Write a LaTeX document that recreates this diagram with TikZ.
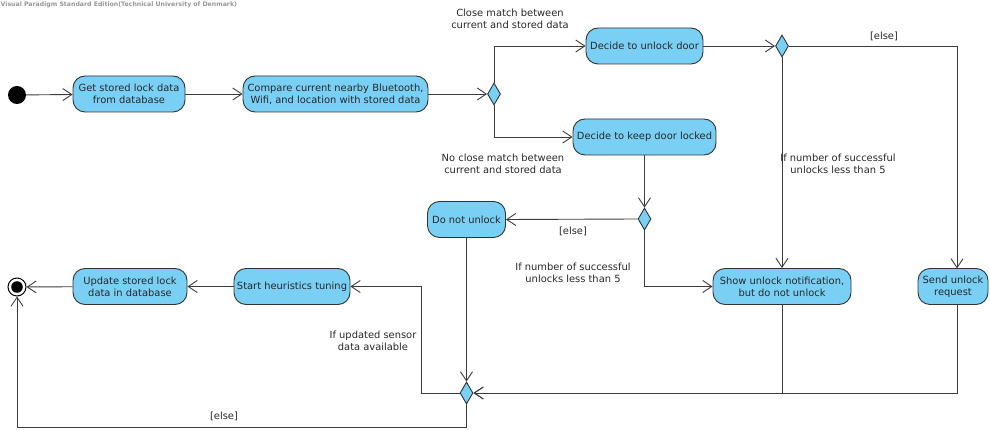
\documentclass[tikz,border=0pt]{standalone}
\usepackage{fontspec}
\setmainfont{DejaVu Sans}
\usetikzlibrary{arrows.meta,shapes.geometric}
\definecolor{actfill}{RGB}{122,207,245}
\definecolor{actline}{RGB}{51,51,51}
\definecolor{flowline}{RGB}{60,60,60}
\definecolor{txt}{RGB}{40,40,40}
\definecolor{mark}{RGB}{150,150,150}
\begin{document}
\begin{tikzpicture}[x=1pt,y=-1pt,
  every node/.style={font=\fontsize{9.9}{12}\selectfont, text=txt},
  action/.style={draw=actline, fill=actfill, rounded corners=12pt, line width=0.9pt,
    minimum height=36pt, align=center, inner sep=2pt},
  decision/.style={diamond, draw=actline, fill=actfill, line width=0.9pt,
    minimum width=13pt, minimum height=22pt, inner sep=0pt},
  guard/.style={align=center, inner sep=0pt},
  flow/.style={draw=flowline, line width=0.9pt,
    -{Straight Barb[length=9pt,width=12pt,line width=0.9pt]}},
]
\useasboundingbox (0,0) rectangle (990,430);

% watermark
\node[anchor=west, inner sep=0pt, text=mark, font=\fontsize{6.2}{7}\selectfont\bfseries] (wm) at (0.5,5)
  {Visual Paradigm Standard Edition(Technical University of Denmark)};

% initial and final nodes
\node[circle, fill=black, minimum size=18pt, inner sep=0pt] (start) at (17,95) {};
\node[circle, draw=black, fill=white, line width=1pt, minimum size=18pt, inner sep=0pt] (end) at (17,287) {};
\fill[black] (end.center) circle (5.8pt);

% actions
\node[action, minimum width=112pt] (get) at (129,94) {Get stored lock data\\from database};
\node[action, minimum width=185pt] (cmp) at (335.5,94) {Compare current nearby Bluetooth,\\Wifi, and location with stored data};
\node[action, minimum width=117pt] (unlock) at (644.5,46) {Decide to unlock door};
\node[action, minimum width=143pt] (keep) at (644.5,137) {Decide to keep door locked};
\node[action, minimum width=78pt] (nounlock) at (466.5,219.5) {Do not unlock};
\node[action, minimum width=138pt] (show) at (782,286.5) {Show unlock notification,\\but do not unlock};
\node[action, minimum width=70pt] (send) at (953,286.5) {Send unlock\\request};
\node[action, minimum width=116pt] (heur) at (292,286.5) {Start heuristics tuning};
\node[action, minimum width=114pt] (upd) at (130,286.5) {Update stored lock\\data in database};

% decisions
\node[decision] (d1) at (494,94) {};
\node[decision] (d2) at (782,46) {};
\node[decision] (d3) at (644.5,219) {};
\node[decision] (d4) at (466.5,393) {};

% junction points of routed connectors
\coordinate (sendin) at (957,268.5);
\coordinate (sendout) at (957,304.5);

% control flows
\draw[flow] (start) -- (get);
\draw[flow] (get) -- (cmp);
\draw[flow] (cmp) -- (d1);
\draw[flow] (d1.north) |- (unlock.west);
\draw[flow] (d1.south) |- (keep.west);
\draw[flow] (unlock) -- (d2);
\draw[flow] (d2.east) -| (sendin);
\draw[flow] (d2.south) -- (show.north);
\draw[flow] (keep) -- (d3);
\draw[flow] (d3.west) -- (nounlock.east);
\draw[flow] (d3.south) |- (show.west);
\draw[flow] (nounlock.south) -- (d4.north);
\draw[flow] (show.south) |- (d4.east);
\draw[flow] (sendout) |- (d4.east);
\draw[flow] (d4.west) -- ++(-38,0) |- (heur.east);
\draw[flow] (d4.south) -- ++(0,23) -| (end.south);
\draw[flow] (heur) -- (upd);
\draw[flow] (upd) -- (end);

% guards
\node[guard] (g1) at (510,19) {Close match between\\current and stored data};
\node[guard] (g2) at (503,163.5) {No close match between\\current and stored data};
\node[guard] (g3) at (884,36) {[else]};
\node[guard] (g4) at (838,163.5) {If number of successful\\unlocks less than 5};
\node[guard] (g5) at (573,231) {[else]};
\node[guard] (g6) at (573,272.5) {If number of successful\\unlocks less than 5};
\node[guard] (g7) at (373,340.5) {If updated sensor\\data available};
\node[guard] (g8) at (224,416) {[else]};
\end{tikzpicture}
\end{document}
